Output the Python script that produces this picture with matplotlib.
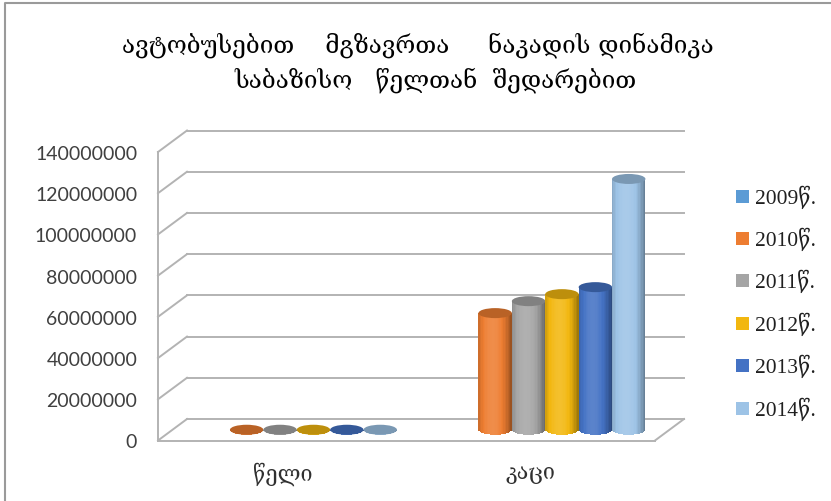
import numpy as np
import matplotlib
matplotlib.use('Agg')
import matplotlib.pyplot as plt
from matplotlib.patches import Ellipse, Rectangle
from matplotlib.colors import to_rgb

# data
categories = ['წელი', 'კაცი']
series = ['2009წ.', '2010წ.', '2011წ.', '2012წ.', '2013წ.', '2014წ.']
year_row = [np.nan, 2010, 2011, 2012, 2013, 2014]
people_row = [np.nan, 56.6e6, 62.4e6, 65.8e6, 69.2e6, 121.7e6]
colors = ['#5B9BD5', '#ED7D31', '#A5A5A5', '#F2B70F', '#4472C4', '#9DC3E6']
yticks = np.arange(0, 140e6 + 1, 20e6)

W, H = 831, 502
fig = plt.figure(figsize=(W / 100, H / 100), dpi=100)
fig.patch.set_facecolor('white')

# front plane of the fake 3d box, in pixels
fx0, fx1, fy0, fy1 = 158, 655, 441.5, 153
ax = fig.add_axes([fx0 / W, (H - fy0) / H, (fx1 - fx0) / W, (fy0 - fy1) / H])
ax.set_xlim(0, 2)
ax.set_ylim(0, 140e6)
for s in ax.spines.values():
    s.set_visible(False)

# depth offset converted to data units
px_x = 2 / (fx1 - fx0)
px_y = 140e6 / (fy0 - fy1)
dx, dy = 29 * px_x, 21.5 * px_y
grid_c = '#b3b3b3'

kw = dict(color=grid_c, lw=1.4, clip_on=False, zorder=1)
for v in yticks:
    ax.plot([dx, 2 + dx], [v + dy, v + dy], **kw)
    ax.plot([0, dx], [v, v + dy], **kw)
ax.plot([0, 0], [0, 140e6], **kw)
ax.plot([0, 2], [0, 0], **kw)
ax.plot([2, 2 + dx], [0, dy], **kw)


def shade(c, s):
    c = np.array(to_rgb(c))
    if s >= 0:
        return tuple(c + (1 - c) * s)
    return tuple(c * (1 + s))


slot = 33.4 * px_x
bw = slot * 1.0
ell_h = 10 * px_y
nstrip = 24
data = [year_row, people_row]

for ci, row in enumerate(data):
    for si, val in enumerate(row):
        if np.isnan(val):
            continue
        xc = ci + 0.5 + (si - 2.5) * slot + dx / 2
        base = dy / 2
        z = 3 + si * 0.01
        u = np.linspace(-1, 1, nstrip + 1)
        um = (u[:-1] + u[1:]) / 2
        xs = xc + um * bw / 2
        bottoms = base - ell_h / 2 * np.sqrt(np.clip(1 - um ** 2, 0, 1))
        heights = base + val - bottoms
        cols = [shade(colors[si], 0.12 - 0.5 * ((t + 0.15) / 1.15) ** 2) for t in um]
        ax.bar(xs, heights, width=bw / nstrip * 1.05, bottom=bottoms, color=cols,
               lw=0, clip_on=False, zorder=z)
        ax.add_patch(Ellipse((xc, base + val), bw, ell_h, facecolor=shade(colors[si], -0.22),
                             edgecolor='none', clip_on=False, zorder=z + 0.005))

ax.set_yticks(yticks)
ax.set_yticklabels([str(int(v)) for v in yticks], fontsize=14, family=['Lato', 'DejaVu Sans'],
                   color='#404040')
ax.tick_params(axis='y', length=0, pad=15)
ax.set_xticks([0.5, 1.5])
ax.set_xticklabels(categories, fontsize=15.5, family=['DejaVu Serif', 'DejaVu Sans'],
                   color='#303030')
ax.tick_params(axis='x', length=0, pad=15)

# legend, drawn by hand
for i, (lab, c) in enumerate(zip(series, colors)):
    yc = 197 + i * 42.4
    fig.patches.append(Rectangle((736 / W, (H - yc - 6.5) / H), 13 / W, 13 / H,
                                 transform=fig.transFigure, facecolor=c, edgecolor='none'))
    fig.text(755 / W, (H - yc) / H, lab, fontsize=15.5, va='center', ha='left',
             family=['Liberation Serif', 'DejaVu Serif', 'DejaVu Sans'], color='#202020')

title1 = 'ავტობუსებით    მგზავრთა     ნაკადის დინამიკა'
title2 = 'საბაზისო   წელთან  შედარებით'
fig.text(418 / W, (H - 45) / H, title1, fontsize=17.5, ha='center', va='center',
         family=['DejaVu Serif', 'DejaVu Sans'], color='black')
fig.text(436 / W, (H - 80) / H, title2, fontsize=17.5, ha='center', va='center',
         family=['DejaVu Serif', 'DejaVu Sans'], color='black')

# chart border (top and left visible)
fig.add_artist(plt.Line2D([5 / W, 5 / W, 1], [0, (H - 4) / H, (H - 4) / H],
                          transform=fig.transFigure, color='#9a9a9a', lw=1.5))

fig.savefig('out.png', dpi=100)
